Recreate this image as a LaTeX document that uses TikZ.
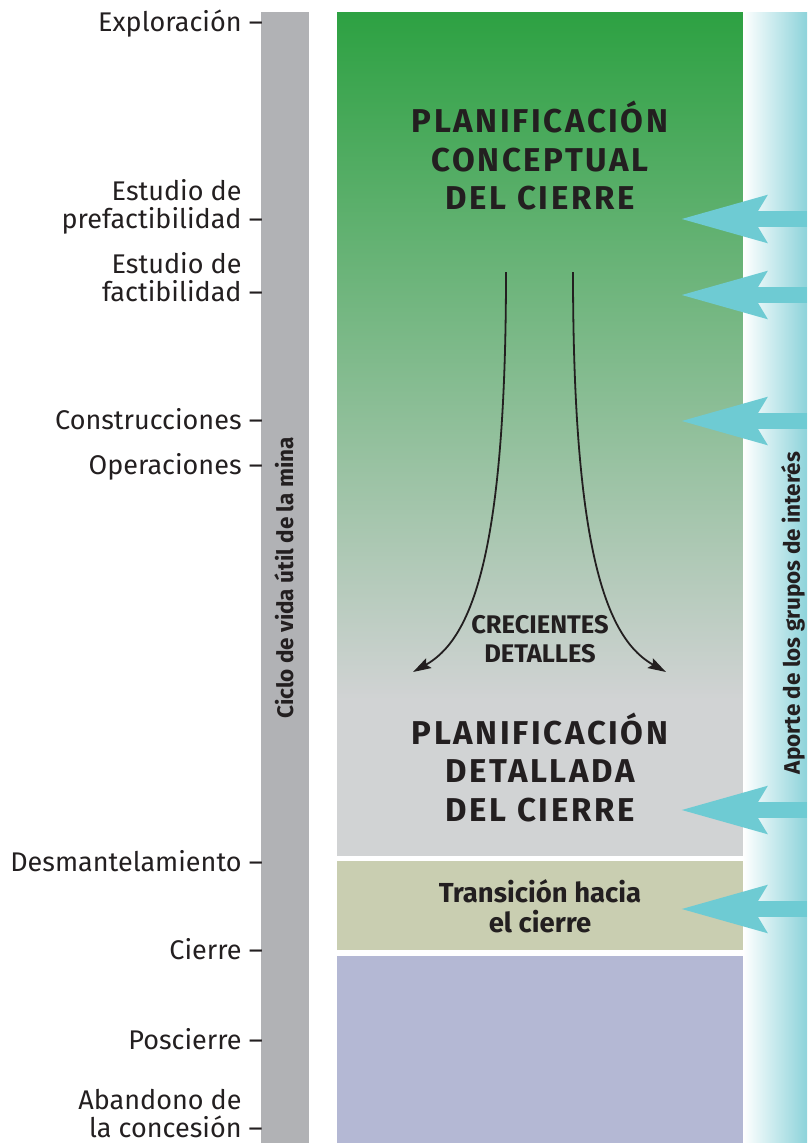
\documentclass[tikz,border=0pt]{standalone}
\usepackage{fontspec}
\setmainfont{Fira Sans}
\newfontfamily\titlefont{Fira Sans}[LetterSpace=8]
\usetikzlibrary{arrows.meta}

\definecolor{greentop}{RGB}{45,161,66}
\definecolor{detailgray}{RGB}{209,211,212}
\definecolor{transgreen}{RGB}{201,206,177}
\definecolor{postlilac}{RGB}{180,184,212}
\definecolor{lifegray}{RGB}{177,178,181}
\definecolor{inputteal}{RGB}{110,203,211}
\definecolor{stripteal}{RGB}{141,211,218}
\definecolor{ink}{RGB}{35,31,32}

\newcommand{\tickgap}{\hphantom{\ –}}

\begin{document}
\begin{tikzpicture}[x=1pt,y=-1pt]
		% Styles for the texts and the arrows
		\tikzset{stage/.style={anchor=base east, inner sep=0pt, align=right, text=ink, font=\fontsize{27}{28}\selectfont}}
		\tikzset{phase/.style={align=center, inner sep=0pt, text=ink, font=\fontsize{33}{38.5}\selectfont\titlefont\bfseries}}
		\tikzset{vertlabel/.style={rotate=90, inner sep=0pt, text=ink, font=\fontsize{22.5}{24}\selectfont\bfseries}}
		\tikzset{detailarrow/.style={-{Stealth[length=18pt, width=11pt, inset=3pt]}, line width=1.8pt, ink}}
		\tikzset{inputarrow/.style={-{Stealth[length=85pt, width=45pt, inset=12pt]}, line width=16pt, inputteal}}
		
		\useasboundingbox (0,0) rectangle (807,1143);
		
		% Background bands
		\fill[lifegray] (261,12) rectangle (309,1143);
		\shade[top color=greentop, bottom color=detailgray] (337,12) rectangle (743,700);
		\fill[detailgray] (337,699.5) rectangle (743,856);
		\fill[transgreen] (337,861) rectangle (743,950);
		\fill[postlilac] (337,956) rectangle (743,1143);
		\shade[left color=white, right color=stripteal] (743,12) rectangle (807,1143);
		
		% Stages of the mine life
		\node[stage] (explo) at (263,31) {Exploración –};
		\node[stage] (prefact) at (263,228) {Estudio de\tickgap\\prefactibilidad –};
		\node[stage] (fact) at (263,301) {Estudio de\tickgap\\factibilidad –};
		\node[stage] (constr) at (263,429) {Construcciones –};
		\node[stage] (oper) at (263,474) {Operaciones –};
		\node[stage] (desm) at (263,871) {Desmantelamiento –};
		\node[stage] (cierre) at (263,959) {Cierre –};
		\node[stage] (poscierre) at (263,1049) {Poscierre –};
		\node[stage] (abandono) at (263,1137) {Abandono de\tickgap\\la concesión –};
		
		% Vertical labels
		\node[vertlabel] (life) at (284,578) {Ciclo de vida útil de la mina};
		\node[vertlabel] (input) at (793,613) {Aporte de los grupos de interés};
		
		% Planning phases
		\node[phase] (concept) at (540,156) {PLANIFICACIÓN\\CONCEPTUAL\\DEL CIERRE};
		\node[phase] (detail) at (540,767) {PLANIFICACIÓN\\DETALLADA\\DEL CIERRE};
		\node[align=center, inner sep=0pt, text=ink, font=\fontsize{25.5}{29}\selectfont\bfseries] (grow) at (540,639) {CRECIENTES\\DETALLES};
		\node[align=center, inner sep=0pt, text=ink, font=\fontsize{27.5}{30}\selectfont\bfseries] (trans) at (540,906) {Transición hacia\\el cierre};
		
		% Curved arrows towards more detail
		\coordinate (growL) at (506,272);
		\coordinate (growLend) at (413,672);
		\coordinate (growR) at (573,272);
		\coordinate (growRend) at (666,672);
		\draw[detailarrow] (growL) .. controls (506,560) and (470,640) .. (growLend);
		\draw[detailarrow] (growR) .. controls (573,560) and (609,640) .. (growRend);
		
		% Inputs of the stakeholders
		\coordinate (in1) at (807,219);
		\coordinate (in2) at (807,295);
		\coordinate (in3) at (807,421);
		\coordinate (in4) at (807,810);
		\coordinate (in5) at (807,909);
		\coordinate (to1) at (680,219);
		\coordinate (to2) at (680,295);
		\coordinate (to3) at (680,421);
		\coordinate (to4) at (680,810);
		\coordinate (to5) at (680,909);
		\draw[inputarrow] (in1) -- (to1);
		\draw[inputarrow] (in2) -- (to2);
		\draw[inputarrow] (in3) -- (to3);
		\draw[inputarrow] (in4) -- (to4);
		\draw[inputarrow] (in5) -- (to5);
	\end{tikzpicture}
\end{document}
